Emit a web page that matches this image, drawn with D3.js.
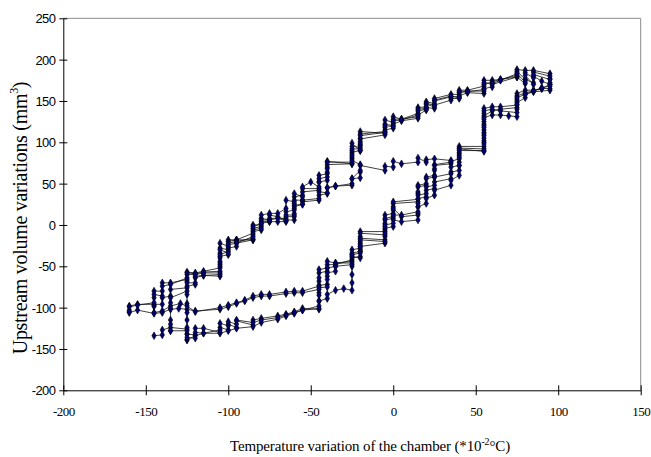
<!DOCTYPE html>
<html>
<head>
<meta charset="utf-8">
<script src="https://cdn.jsdelivr.net/npm/d3@7"></script>
<style>
  html, body { margin: 0; padding: 0; background: #fff; }
  svg { display: block; }
</style>
</head>
<body>
<svg id="chart" width="651" height="457"></svg>
<script>
// ---- Data ----
const xTicks = [-200, -150, -100, -50, 0, 50, 100, 150];
const yTicks = [-200, -150, -100, -50, 0, 50, 100, 150, 200, 250];

// cycle 1: heating along lower branch, cooling along the outer upper branch
const cycle1 = [
[-145,-134],[-140,-133],[-140,-127],[-135,-124],[-125,-126],[-125,-132],[-120,-133],[-120,-125],[-115,-125],[-105,-130],[-105,-124],[-100,-127],[-100,-120],[-95,-124],[-95,-116],[-85,-121],[-85,-115],[-80,-113],[-70,-110],[-65,-108],[-60,-105],[-55,-101],[-45,-102],[-45,-92],[-45,-82],[-45,-73],[-40,-72],[-40,-62],[-40,-52],[-35,-50],[-35,-46],[-25,-44],[-25,-36],[-25,-30],[-20,-28],[-20,-22],[-20,-16],[-5,-18],[-5,-6],[-5,6],[0,8],[0,18],[0,26],[15,28],[15,38],[15,46],[20,48],[20,56],[25,58],[25,66],[25,72],[35,74],[35,77],[40,80],[40,88],[40,95],[55,95],[55,105],[55,115],[55,125],[55,135],[55,141],[60,143],[65,143],[75,145],[75,152],[75,159],[80,163],[85,163],[90,165],[95,170],[95,177],[95,183],
[85,187],[80,187],[75,188],[75,184],[75,179],[65,176],[60,175],[55,175],[55,168],[45,163],[40,163],[40,158],[35,158],[25,153],[25,147],[20,149],[20,143],[15,142],[15,135],[5,128],[0,131],[0,124],[-5,127],[-5,118],[-5,111],[-20,113],[-20,105],[-20,97],[-20,90],[-25,99],[-25,90],[-25,82],[-25,74],[-40,77],[-40,70],[-40,62],[-45,60],[-45,52],[-45,44],[-55,44],[-55,36],[-60,34],[-60,26],[-60,18],[-65,16],[-65,8],[-75,8],[-75,4],[-80,4],[-80,-2],[-85,-4],[-85,-12],[-85,-18],[-95,-18],[-100,-18],[-100,-26],[-105,-22],[-105,-34],[-105,-46],[-105,-58],[-115,-58],[-120,-60],[-125,-60],[-125,-68],[-125,-76],[-135,-78],[-135,-86],[-140,-88],[-140,-96],[-145,-96],[-155,-96],[-160,-98],[-160,-103]
];

// cycle 2: heating along middle branch, cooling along the inner branch
const cycle2 = [
[-160,-106],[-155,-103],[-145,-107],[-140,-106],[-135,-102],[-130,-101],[-125,-102],[-120,-104],[-105,-102],[-100,-99],[-95,-95],[-90,-92],[-85,-88],[-80,-86],[-75,-86],[-65,-83],[-60,-82],[-55,-82],[-45,-78],[-45,-68],[-45,-58],[-40,-56],[-40,-48],[-35,-48],[-25,-42],[-25,-34],[-20,-32],[-20,-24],[-20,-14],[-20,-8],[-5,-8],[-5,2],[-5,12],[0,14],[0,22],[0,28],[15,31],[15,40],[15,48],[20,50],[20,58],[25,60],[25,68],[25,73],[35,76],[35,78],
[25,80],[20,79],[20,76],[15,81],[15,76],[5,74],[0,77],[0,70],[-5,71],[-5,66],[-20,72],[-20,64],[-20,57],[-25,56],[-25,48],[-35,47],[-40,45],[-40,38],[-45,36],[-45,30],[-55,28],[-55,25],[-60,22],[-60,14],[-60,6],[-65,6],[-65,4],[-70,4],[-75,4],[-80,2],[-80,-6],[-85,-8],[-85,-18],[-95,-22],[-95,-26],[-100,-28],[-100,-36],[-105,-38],[-105,-50],[-105,-62],[-115,-61],[-120,-64],[-120,-72],[-125,-74],[-125,-84],[-125,-95],[-125,-106],[-125,-115],[-125,-124],[-125,-132],[-125,-139]
];

// cycle 3: heating along lower branch, cooling along upper branch
const cycle3 = [
[-125,-139],[-120,-134],[-115,-131],[-105,-131],[-100,-128],[-95,-125],[-85,-123],[-80,-118],[-70,-114],[-65,-110],[-60,-107],[-55,-103],[-45,-101],[-45,-92],[-40,-89],[-40,-84],[-35,-79],[-30,-77],[-25,-79],[-25,-70],[-25,-60],[-25,-50],[-25,-40],[-20,-38],[-20,-30],[-20,-20],[-20,-10],[-5,-12],[-5,-2],[-5,8],[0,10],[0,20],[5,10],[15,12],[15,22],[15,32],[20,34],[20,42],[25,44],[25,52],[35,56],[35,64],[40,66],[40,76],[40,86],[40,92],[55,89],[55,100],[55,110],[55,120],[55,130],[60,133],[65,133],[70,132],[75,131],[75,140],[75,148],[80,154],[80,158],[85,161],[95,163],[95,170],
[90,174],[85,180],[85,172],[80,176],[80,171],[75,179],[60,170],[60,167],[55,165],[55,159],[45,160],[40,156],[40,153],[35,153],[35,151],[25,145],[25,141],[20,142],[20,139],[15,133],[15,129],[5,126],[0,122],[0,117],[-5,115],[-5,109],[-20,104],[-20,96],[-20,90],[-25,88],[-25,80],[-25,74],[-40,73],[-40,64],[-40,54],[-45,52],[-45,42],[-55,40],[-55,30],[-60,30],[-60,20],[-60,10],[-65,10],[-65,6],[-70,10],[-75,12],[-75,6],[-80,8],[-80,0],[-85,0],[-85,-10],[-95,-18],[-100,-20],[-100,-30],[-105,-28],[-105,-40],[-105,-52],[-115,-56],[-120,-58],[-125,-57],[-125,-66],[-135,-70],[-140,-70],[-140,-80],[-145,-80],[-145,-88],[-145,-98]
];

// cycle 4: heating along middle branch, cooling along upper branch down to -135
const cycle4 = [
[-145,-98],[-145,-106],[-140,-104],[-135,-98],[-129,-95],[-125,-98],[-120,-105],[-105,-100],[-100,-97],[-95,-94],[-90,-91],[-85,-86],[-80,-84],[-75,-84],[-65,-81],[-60,-80],[-55,-80],[-45,-74],[-45,-64],[-45,-54],[-40,-52],[-40,-44],[-35,-46],[-25,-46],[-25,-38],[-20,-40],[-20,-32],[-20,-26],[-5,-22],[-5,-14],[-5,-4],[0,-2],[0,6],[5,4],[15,6],[15,14],[15,22],[20,26],[20,32],[25,36],[25,42],[35,48],[35,54],[40,60],[40,72],[40,84],[40,93],[55,92],[55,102],[55,112],[55,122],[55,132],[60,138],[65,140],[75,142],[75,150],[75,156],[80,160],[85,162],[90,165],[95,165],[95,172],[95,180],
[85,185],[85,178],[80,184],[80,176],[75,186],[75,181],[65,176],[60,173],[55,170],[55,162],[45,162],[40,160],[40,155],[35,155],[25,150],[25,143],[20,146],[20,140],[15,138],[15,131],[5,128],[0,128],[0,120],[-5,122],[-5,113],[-20,110],[-20,101],[-20,94],[-25,95],[-25,86],[-25,78],[-20,73],[-20,66],[-25,56],[-25,50],[-35,47],[-40,45],[-40,39],[-45,40],[-45,32],[-55,30],[-55,25],[-60,24],[-60,12],[-65,12],[-65,5],[-70,8],[-75,6],[-80,6],[-80,-4],[-85,-6],[-85,-16],[-95,-20],[-100,-22],[-100,-32],[-105,-36],[-105,-48],[-105,-60],[-115,-61],[-120,-62],[-120,-70],[-125,-70],[-125,-80],[-135,-88],[-135,-94],[-135,-101],[-135,-115],[-135,-120],[-135,-128]
];

// cycle 5: heating along lower branch to the top, cooling back to the far left
const cycle5 = [
[-135,-128],[-125,-128],[-125,-136],[-120,-137],[-120,-130],[-115,-131],[-105,-127],[-105,-119],[-100,-122],[-100,-117],[-95,-120],[-95,-115],[-85,-118],[-80,-115],[-70,-112],[-65,-109],[-60,-106],[-55,-103],[-45,-98],[-45,-85],[-45,-76],[-40,-75],[-40,-66],[-40,-58],[-35,-56],[-35,-50],[-25,-48],[-25,-36],[-20,-34],[-20,-26],[-20,-18],[-5,-20],[-5,-10],[-5,0],[0,2],[0,12],[5,12],[15,16],[15,26],[15,36],[20,38],[20,46],[25,48],[25,58],[35,62],[35,70],[40,72],[40,82],[40,90],[55,90],[55,98],[55,108],[55,118],[55,128],[55,138],[60,140],[65,138],[75,136],[75,146],[75,154],[80,158],[85,162],[90,166],[95,168],[95,176],
[85,182],[85,170],[80,181],[80,173],[75,183],[65,175],[60,171],[55,172],[55,164],[45,161],[40,161],[40,154],[35,156],[25,151],[25,145],[20,147],[20,141],[15,140],[15,133],[5,127],[0,126],[0,119],[-5,120],[-5,112],[-20,108],[-20,99],[-20,92],[-25,92],[-25,84],[-25,76],[-40,76],[-40,68],[-40,58],[-45,56],[-45,46],[-50,52],[-55,46],[-55,34],[-60,38],[-60,28],[-65,30],[-65,20],[-70,14],[-75,14],[-80,12],[-80,2],[-85,-2],[-85,-14],[-95,-22],[-100,-24],[-100,-34],[-105,-30],[-105,-44],[-105,-56],[-115,-57],[-120,-59],[-125,-58],[-125,-64],[-135,-72],[-140,-74],[-140,-86],[-145,-84],[-145,-94],[-155,-97],[-160,-99],[-160,-105]
];

const cycles = [cycle1, cycle2, cycle3, cycle4, cycle5];

// ---- Layout ----
const svg = d3.select("#chart");
const L = 63.3, R = 640.7, T = 18.3, B = 390.3;
const x = d3.scaleLinear().domain([-200, 150]).range([L, R]);
const y = d3.scaleLinear().domain([-200, 250]).range([B, T]);

// grey top / right frame
svg.append("line").attr("x1", L).attr("x2", R).attr("y1", T).attr("y2", T)
  .attr("stroke", "#8c8c8c").attr("stroke-width", 1);
svg.append("line").attr("x1", R).attr("x2", R).attr("y1", T).attr("y2", B)
  .attr("stroke", "#8c8c8c").attr("stroke-width", 1);

// data lines
const line = d3.line().x(d => x(d[0])).y(d => y(d[1]));
const gData = svg.append("g");
cycles.forEach(c => {
  gData.append("path").attr("d", line(c)).attr("fill", "none")
    .attr("stroke", "#111").attr("stroke-width", 0.8);
});
// markers
const sym = d3.symbol().type(d3.symbolDiamond).size(17);
cycles.forEach(c => {
  gData.selectAll(null).data(c).enter().append("path")
    .attr("d", sym)
    .attr("transform", d => `translate(${x(d[0])},${y(d[1])})`)
    .attr("fill", "#00007a").attr("stroke", "#000").attr("stroke-width", 0.6);
});

const fmt = d => String(d);

// y axis
const yAxis = svg.append("g").attr("transform", `translate(${L},0)`)
  .call(d3.axisLeft(y).tickValues(yTicks).tickSize(4).tickSizeOuter(0).tickFormat(fmt));
yAxis.select(".domain").attr("stroke", "#000");
yAxis.selectAll(".tick line").attr("x1", 4).attr("stroke", "#000");
yAxis.selectAll(".tick text").attr("x", -8).attr("dy", "0.35em")
  .style("font-family", "'Liberation Sans', Arial, sans-serif").style("font-size", "13px")
  .attr("letter-spacing", -0.6).attr("fill", "#000");

// x axis
const xAxis = svg.append("g").attr("transform", `translate(0,${B})`)
  .call(d3.axisBottom(x).tickValues(xTicks).tickSize(5).tickSizeOuter(0).tickFormat(fmt));
xAxis.select(".domain").attr("stroke", "#000");
xAxis.selectAll(".tick line").attr("y1", -5).attr("stroke", "#000");
xAxis.selectAll(".tick text").attr("y", 26).attr("dy", 0)
  .style("font-family", "'Liberation Serif', 'Times New Roman', serif").style("font-size", "13px")
  .attr("letter-spacing", -0.5).attr("fill", "#000");

// axis titles
const xt = svg.append("text").attr("x", 370).attr("y", 451).attr("text-anchor", "middle")
  .attr("font-family", "'Liberation Serif', 'Times New Roman', serif").attr("font-size", 15)
  .attr("letter-spacing", -0.15).attr("fill", "#000");
xt.append("tspan").text("Temperature variation of the chamber (*10");
xt.append("tspan").attr("font-size", 10).attr("dy", -6).text("-2");
xt.append("tspan").attr("dy", 6).text("°C)");

const yt = svg.append("text").attr("transform", "translate(27,218) rotate(-90)")
  .attr("text-anchor", "middle")
  .attr("font-family", "'Liberation Serif', 'Times New Roman', serif").attr("font-size", 20)
  .attr("letter-spacing", -0.3).attr("fill", "#000");
yt.append("tspan").text("Upstream volume variations (mm");
yt.append("tspan").attr("font-size", 12).attr("dy", -9).text("3");
yt.append("tspan").attr("dy", 9).text(")");
</script>
</body>
</html>
